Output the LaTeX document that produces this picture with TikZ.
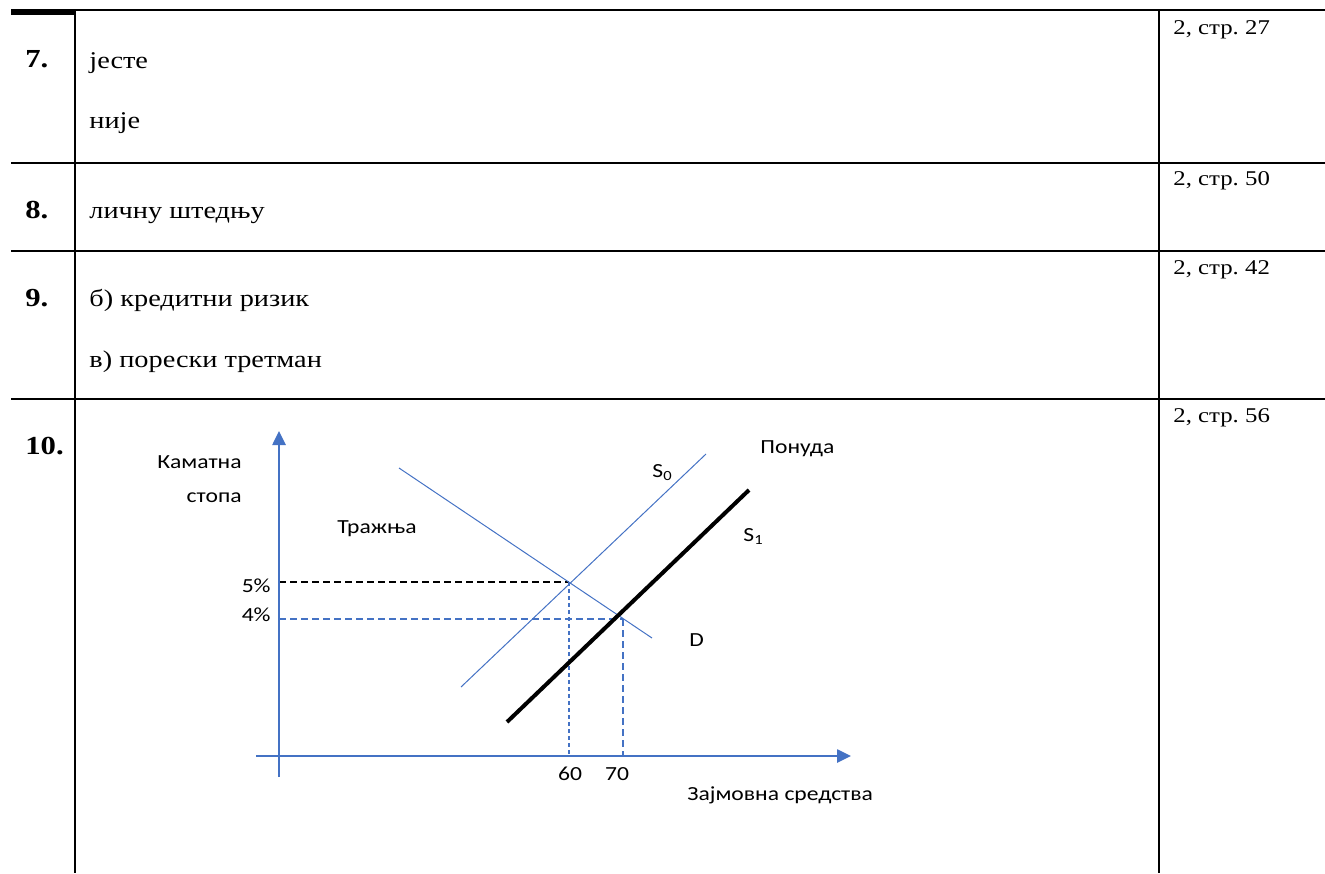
\documentclass[tikz,border=0pt]{standalone}
\usepackage{fontspec}
\setmainfont{Liberation Serif}[FakeStretch=1.18]
\newfontfamily\calfont{Carlito}[FakeStretch=1.18]
\usetikzlibrary{arrows.meta}
\definecolor{wordblue}{HTML}{4472C4}
\frenchspacing

\begin{document}
\begin{tikzpicture}
  [x=0.5pt,y=-0.5pt,every node/.style={inner sep=0pt,anchor=base west},
   num/.style={font=\bfseries\fontsize{13}{15}\selectfont},
   ans/.style={font=\fontsize{12}{14}\selectfont},
   src/.style={font=\fontsize{10.5}{12}\selectfont},
   glabel/.style={font=\calfont\fontsize{10}{12}\selectfont},
   rule/.style={line width=1pt},
   axis/.style={wordblue,line width=1.3pt,-{Triangle[length=7pt,width=6.5pt]}}]
  \useasboundingbox (0,0) rectangle (1325,873);

  % table
  \fill (11,9.3) rectangle (75,14.7);
  \draw[rule] (75,10.3) -- (1325,10.3);
  \foreach \y in {163,251,399}
    \draw[rule] (11,\y) -- (1325,\y);
  \draw[rule] (75,10) -- (75,873);
  \draw[rule] (1159,10) -- (1159,873);

  \node[num] (q7) at (25,67) {7.};
  \node[ans] (a7a) at (89,68) {јесте};
  \node[ans] (a7b) at (89,128) {није};
  \node[src] (s7) at (1173,34) {2, стр. 27};

  \node[num] (q8) at (25,218) {8.};
  \node[ans] (a8) at (89,218) {личну штедњу};
  \node[src] (s8) at (1173,185) {2, стр. 50};

  \node[num] (q9) at (25,306) {9.};
  \node[ans] (a9a) at (89,306) {б) кредитни ризик};
  \node[ans] (a9b) at (89,367) {в) порески третман};
  \node[src] (s9) at (1173,274) {2, стр. 42};

  \node[num] (q10) at (25,454) {10.};
  \node[src] (s10) at (1173,422) {2, стр. 56};

  % graph
  \coordinate (ybot) at (279,777);
  \coordinate (ytop) at (279,431);
  \coordinate (xleft) at (256,756);
  \coordinate (xright) at (851,756);
  \coordinate (r5) at (279,582);
  \coordinate (r4) at (279,619);
  \coordinate (e0) at (569,582);
  \coordinate (e1) at (623,619);
  \coordinate (q60) at (569,756);
  \coordinate (q70) at (623,756);
  \coordinate (d0) at (399,468);
  \coordinate (d1) at (652,638);
  \coordinate (s00) at (461,687);
  \coordinate (s01) at (706,454);
  \coordinate (s10) at (507,722);
  \coordinate (s11) at (749,490);

  \draw[black,line width=0.8pt,dash pattern=on 3.5pt off 2pt] (r5) -- (e0);
  \draw[wordblue,line width=0.8pt,dash pattern=on 3.5pt off 2pt] (r4) -- (e1);
  \draw[wordblue,line width=0.6pt,dash pattern=on 2pt off 1.5pt] (e0) -- (q60);
  \draw[wordblue,line width=0.9pt,dash pattern=on 3.5pt off 2pt] (e1) -- (q70);
  \draw[wordblue,line width=0.5pt] (d0) -- (d1);
  \draw[wordblue,line width=0.5pt] (s00) -- (s01);
  \draw[black,line width=2pt] (s10) -- (s11);
  \draw[axis] (ybot) -- (ytop);
  \draw[axis] (xleft) -- (xright);

  \node[glabel,anchor=base east] (kam) at (242,468) {Каматна};
  \node[glabel,anchor=base east] (stopa) at (242,502) {стопа};
  \node[glabel] (trazh) at (337,533) {Тражња};
  \node[glabel,anchor=base east] (p5) at (271,592) {5\%};
  \node[glabel,anchor=base east] (p4) at (271,621) {4\%};
  \node[glabel,anchor=base] (v60) at (570,780) {60};
  \node[glabel,anchor=base] (v70) at (617,780) {70};
  \node[glabel] (zajm) at (687,800) {Зајмовна средства};
  \node[glabel] (ponuda) at (760,453) {Понуда};
  \node[glabel] (ls0) at (652,477) {S\textsubscript{0}};
  \node[glabel] (ls1) at (743,541) {S\textsubscript{1}};
  \node[glabel] (ld) at (689,646) {D};
\end{tikzpicture}
\end{document}
